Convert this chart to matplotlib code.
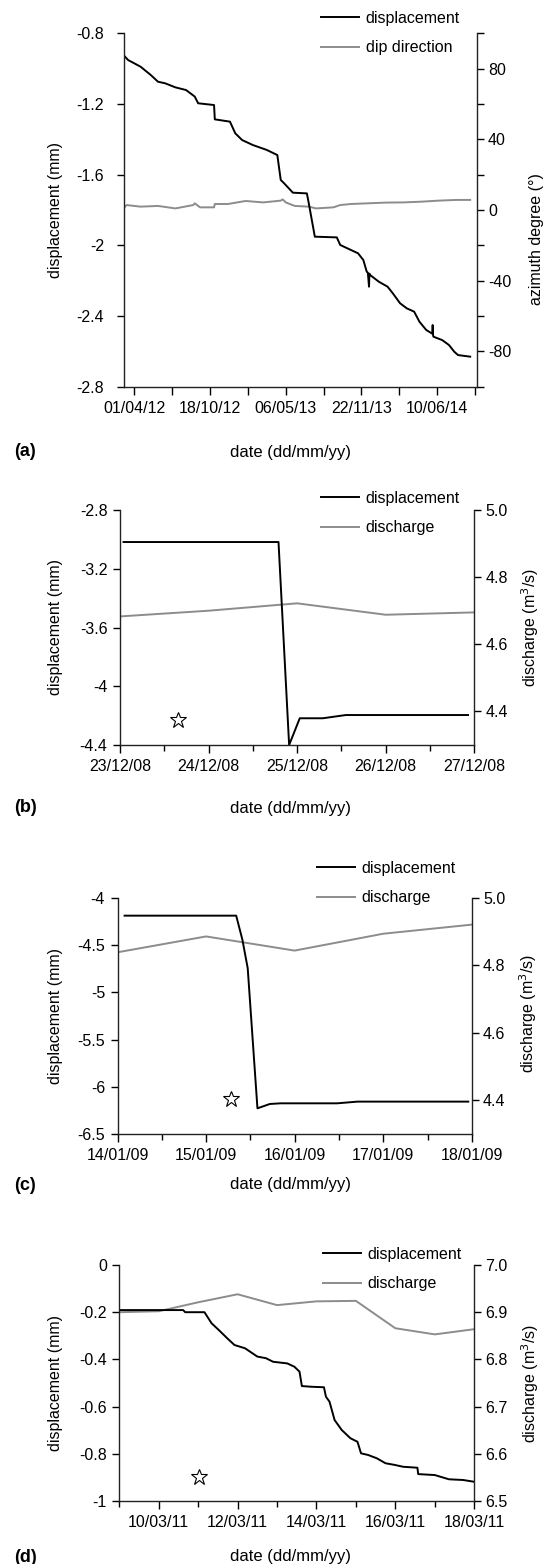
import numpy as np
import pandas as pd
import matplotlib
matplotlib.use("Agg")
import matplotlib.pyplot as plt
from matplotlib.ticker import FixedLocator, FuncFormatter, MultipleLocator
import matplotlib.dates as mdates

plt.rcParams['font.family'] = ['Liberation Sans', 'DejaVu Sans']
plt.rcParams['axes.unicode_minus'] = False
plt.rcParams['font.size'] = 11.5

# --------------------------
# Data (day offsets from the start date of each panel)
# --------------------------
# (a) long record: displacement and dip direction
a_start = "2012-04-01"
disp_a_day = [-28, -16, 17, 44, 63, 82, 109, 137, 160, 169, 211, 213, 253, 267, 285,
              313, 350, 378, 387, 396, 419, 456, 461, 477, 535, 544, 572, 591, 605, 614,
              617, 620, 621, 623, 646, 669, 683, 702, 720, 739, 753, 771, 787, 788, 789,
              790, 813, 831, 845, 855, 887]
disp_a = [-0.923, -0.951, -0.989, -1.036, -1.074, -1.083, -1.106, -1.121, -1.158, -1.196,
          -1.206, -1.287, -1.300, -1.366, -1.404, -1.432, -1.460, -1.489, -1.630, -1.649,
          -1.702, -1.706, -1.762, -1.951, -1.955, -1.998, -2.026, -2.045, -2.083, -2.149,
          -2.155, -2.234, -2.160, -2.168, -2.206, -2.234, -2.272, -2.328, -2.357, -2.375,
          -2.432, -2.479, -2.500, -2.451, -2.507, -2.517, -2.536, -2.564, -2.602, -2.621,
          -2.630]
dip_a_day = [-28, -20, 17, 63, 109, 156, 160, 174, 211, 213, 248, 294, 341, 387, 392,
             401, 424, 461, 480, 526, 544, 572, 619, 665, 711, 757, 804, 850, 887]
dip_a = [0.9, 2.8, 1.9, 2.3, 0.9, 2.8, 3.8, 1.5, 1.5, 3.4, 3.4, 5.1, 4.3, 5.3, 6.0,
         4.2, 2.3, 1.9, 0.9, 1.5, 2.8, 3.4, 3.8, 4.2, 4.3, 4.7, 5.3, 5.7, 5.7]

# (b) December 2008 event
b_start = "2008-12-23"
disp_b_day = [0.04, 1.79, 1.91, 2.03, 2.29, 2.55, 3.93]
disp_b = [-3.018, -3.018, -4.4, -4.218, -4.218, -4.196, -4.196]
q_b_day = [0, 1, 2, 3, 4]
q_b = [4.683, 4.700, 4.722, 4.688, 4.695]
star_b = (0.65, -4.23)

# (c) January 2009 event
c_start = "2009-01-14"
disp_c_day = [0.08, 1.34, 1.41, 1.47, 1.58, 1.72, 1.84, 2.48, 2.71, 3.96]
disp_c = [-4.187, -4.187, -4.442, -4.743, -6.228, -6.182, -6.175, -6.175, -6.157, -6.157]
q_c_day = [0, 1, 2, 3, 4]
q_c = [4.839, 4.886, 4.844, 4.894, 4.921]
star_c = (1.28, -6.13)

# (d) March 2011 event
d_start = "2011-03-09"
disp_d_day = [0, 1.62, 1.67, 2.16, 2.34, 2.52, 2.74, 2.92, 3.19, 3.50, 3.72, 3.90, 4.26,
              4.44, 4.57, 4.63, 4.88, 5.19, 5.24, 5.33, 5.46, 5.64, 5.86, 6.04, 6.13, 6.31,
              6.53, 6.75, 6.98, 7.20, 7.56, 7.58, 8.00, 8.36, 8.72, 8.98]
disp_d = [-0.191, -0.191, -0.200, -0.200, -0.247, -0.275, -0.311, -0.339, -0.353, -0.388,
          -0.395, -0.410, -0.417, -0.431, -0.452, -0.513, -0.516, -0.518, -0.558, -0.579,
          -0.657, -0.699, -0.734, -0.749, -0.798, -0.805, -0.819, -0.840, -0.847, -0.855,
          -0.859, -0.886, -0.890, -0.908, -0.911, -0.918]
q_d_day = [0, 1, 2, 3, 4, 5, 6, 7, 8, 9]
q_d = [6.900, 6.902, 6.921, 6.938, 6.915, 6.923, 6.924, 6.866, 6.853, 6.864]
star_d = (2.03, -0.897)

GRAY = '#8c8c8c'
W, H = 550, 1564


def to_dates(start, days):
    return pd.Timestamp(start) + pd.to_timedelta(np.asarray(days, dtype=float), unit='D')


def px_rect(l, r, t, b):
    return [l / W, 1 - b / H, (r - l) / W, (b - t) / H]


fig = plt.figure(figsize=(W / 100, H / 100), dpi=100)


def make_panel(rect, start, xlim_days, major_days, minor_days,
               x1, y1, x2, y2, label2, star, ylim, ystep, ylim2, yticks2, fmt2,
               ylab_y, leg_xy, xlab_y, letter, pad_left=4, minor_len=4):
    ax = fig.add_axes(px_rect(*rect))
    ax2 = ax.twinx()
    ax.set_zorder(ax2.get_zorder() + 1)
    ax.patch.set_visible(False)

    l1, = ax.plot(to_dates(start, x1), y1, color='black', lw=1.4, label='displacement')
    l2, = ax2.plot(to_dates(start, x2), y2, color=GRAY, lw=1.4, label=label2)
    if star is not None:
        ax.plot(to_dates(start, [star[0]]), [star[1]], marker='*', ms=12, mfc='white',
                mec='black', mew=0.8, ls='none', clip_on=False)

    s = pd.Timestamp(start)
    ax.set_xlim(s + pd.Timedelta(days=xlim_days[0]), s + pd.Timedelta(days=xlim_days[1]))
    ax.xaxis.set_major_locator(FixedLocator(mdates.date2num(to_dates(start, major_days))))
    ax.xaxis.set_minor_locator(FixedLocator(mdates.date2num(to_dates(start, minor_days))))
    ax.xaxis.set_major_formatter(mdates.DateFormatter('%d/%m/%y'))

    ax.set_ylim(*ylim)
    ax.yaxis.set_major_locator(MultipleLocator(ystep))
    ax.yaxis.set_major_formatter(FuncFormatter(lambda v, p: '%g' % round(v, 3)))
    ax2.set_ylim(*ylim2)
    ax2.yaxis.set_major_locator(FixedLocator(yticks2))
    ax2.yaxis.set_major_formatter(FuncFormatter(fmt2))

    for sp in ['top', 'right']:
        ax.spines[sp].set_visible(False)
    for sp in ['top', 'left', 'bottom']:
        ax2.spines[sp].set_visible(False)
    for a in (ax, ax2):
        for sp in a.spines.values():
            sp.set_linewidth(1.0)
            sp.set_color('#222222')

    ax.tick_params(axis='x', which='major', length=6, width=1, pad=4, labelsize=11.5)
    ax.tick_params(axis='x', which='minor', length=minor_len, width=1)
    ax.tick_params(axis='y', length=5, width=1, pad=pad_left, labelsize=11.5)
    ax2.tick_params(axis='y', which='both', length=5, width=1, pad=3, labelsize=11.5)

    fig.text(56 / W, 1 - ylab_y / H, 'displacement (mm)', rotation=90,
             ha='center', va='center', fontsize=11.5)
    ax.legend([l1, l2], ['displacement', label2], loc='upper left',
              bbox_to_anchor=(leg_xy[0] / W, 1 - leg_xy[1] / H),
              bbox_transform=fig.transFigure, frameon=False, borderpad=0,
              borderaxespad=0, handlelength=2.4, handletextpad=0.4,
              labelspacing=0.9, fontsize=11.5)
    fig.text(290 / W, 1 - xlab_y / H, 'date (dd/mm/yy)', ha='center', va='center',
             fontsize=12)
    fig.text(14 / W, 1 - xlab_y / H, letter, ha='left', va='center',
             fontsize=13, fontweight='bold')
    return ax, ax2


# (a)
ax, ax2 = make_panel((123.5, 477, 33.3, 386.7), a_start, (-28, 905),
                     [0, 200, 400, 600, 800], [100, 300, 500, 700, 900],
                     disp_a_day, disp_a, dip_a_day, dip_a, 'dip direction', None,
                     (-2.8, -0.8), 0.4, (-100, 100), [-80, -40, 0, 40, 80],
                     lambda v, p: '%d' % v, 210, (321, 11), 452, '(a)',
                     pad_left=9, minor_len=6)
ax2.yaxis.set_minor_locator(FixedLocator([-100, -60, -20, 20, 60, 100]))
fig.text(536 / W, 1 - 239 / H, 'azimuth degree (°)', rotation=90,
         ha='center', va='center', fontsize=11.5)

# (b)
make_panel((120, 474.2, 510, 745), b_start, (0, 4),
           [0, 1, 2, 3, 4], [0.5, 1.5, 2.5, 3.5],
           disp_b_day, disp_b, q_b_day, q_b, 'discharge', star_b,
           (-4.4, -2.8), 0.4, (4.3, 5.0), [4.4, 4.6, 4.8, 5.0],
           lambda v, p: '%.1f' % v, 627, (321, 491), 808, '(b)')
fig.text(530 / W, 1 - 627 / H, 'discharge (m$^3$/s)', rotation=90,
         ha='center', va='center', fontsize=11.5)

# (c)
make_panel((117.5, 471.8, 898, 1134), c_start, (0, 4),
           [0, 1, 2, 3, 4], [0.5, 1.5, 2.5, 3.5],
           disp_c_day, disp_c, q_c_day, q_c, 'discharge', star_c,
           (-6.5, -4.0), 0.5, (4.3, 5.0), [4.4, 4.6, 4.8, 5.0],
           lambda v, p: '%.1f' % v, 1016, (317, 861), 1185, '(c)')
fig.text(528 / W, 1 - 1013 / H, 'discharge (m$^3$/s)', rotation=90,
         ha='center', va='center', fontsize=11.5)

# (d)
make_panel((119.3, 474.2, 1265, 1501), d_start, (0, 9),
           [1, 3, 5, 7, 9], [0, 2, 4, 6, 8],
           disp_d_day, disp_d, q_d_day, q_d, 'discharge', star_d,
           (-1.0, 0.0), 0.2, (6.5, 7.0), [6.5, 6.6, 6.7, 6.8, 6.9, 7.0],
           lambda v, p: '%.1f' % v, 1383, (323, 1247), 1557, '(d)')
fig.text(530 / W, 1 - 1383 / H, 'discharge (m$^3$/s)', rotation=90,
         ha='center', va='center', fontsize=11.5)

fig.savefig("out.png", dpi=100)
